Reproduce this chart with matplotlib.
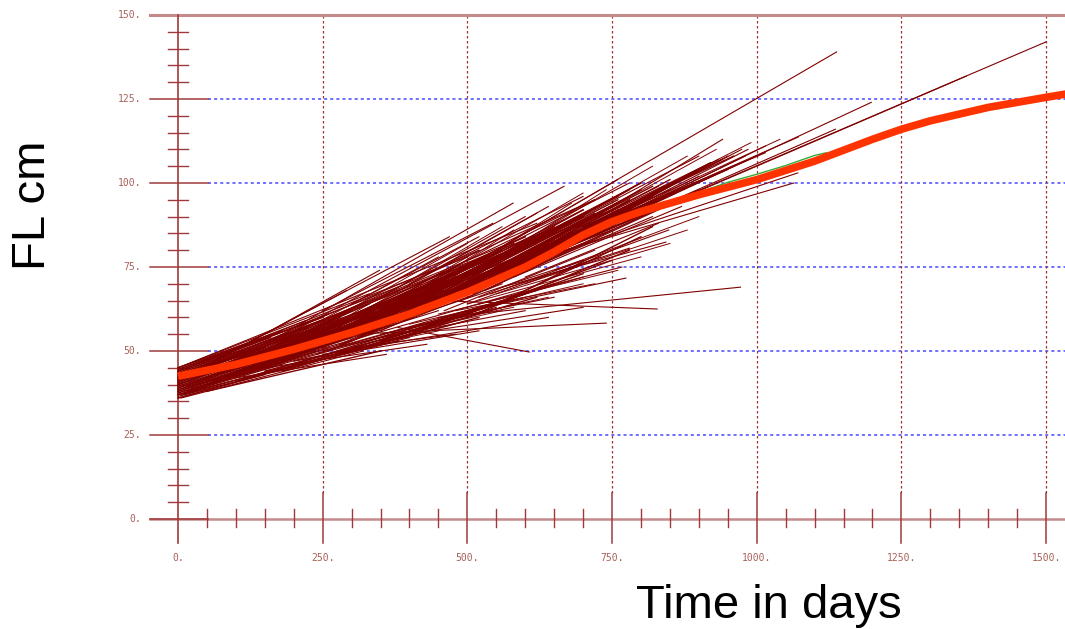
import matplotlib
matplotlib.use('Agg')
import matplotlib.pyplot as plt

# ---------------- data ----------------
# growth increments: start (x0, y0) -> end (x1, y1), days / cm
seg_x0 = [0, 0, 0, 0, 0, 0, 0, 0, 0, 0, 0, 0, 0, 0, 0, 0, 0, 0, 0, 0,
          0, 0, 0, 0, 0, 0, 0, 0, 0, 0, 0, 10, 10, 10, 20, 20, 20, 30, 30, 40,
          55, 40, 60, 5, 5, 15, 25, 35, 50, 50,
          100, 100, 100, 100, 120, 120, 140, 150, 150, 160, 180, 180, 200, 200, 200, 150, 220, 230, 240, 250,
          250, 260, 270, 280, 290, 300, 300, 310, 320, 330, 340, 350, 350, 360, 370, 380, 390, 400, 400, 410,
          420, 430, 440, 450, 450, 460, 470, 480, 490, 500, 500, 510, 520, 530, 540, 550, 550, 560, 570, 580,
          590, 600, 600, 610, 620, 630, 640, 650, 660, 680, 700, 720, 560, 540, 520, 580, 600, 500,
          450, 450, 300, 380, 500, 520, 400, 250, 200, 150, 350, 300, 420, 100, 250, 330, 460,
          250, 300, 350, 400, 420]
seg_y0 = [36, 36.5, 37, 37, 37.5, 38, 38, 38.5, 39, 39, 39.5, 40, 40, 40, 40.5, 41, 41, 41, 41.5, 42,
          42, 42, 42.5, 43, 43, 43.5, 44, 44, 44.5, 45, 45, 38, 37, 39, 40, 41, 43, 42, 44, 43,
          46, 45, 47, 36, 37, 38, 39, 40, 41, 40,
          44, 45, 46, 47, 44, 46, 47, 46, 48, 49, 47, 49, 48, 50, 56, 52, 50, 52, 49, 51,
          53, 50, 54, 52, 55, 53, 56, 54, 57, 55, 58, 56, 60, 59, 58, 61, 59, 62, 60, 63,
          61, 64, 63, 65, 64, 62, 66, 67, 65, 68, 67, 69, 70, 68, 71, 72, 72, 73, 72, 74,
          75, 76, 74, 77, 78, 79, 80, 81, 82, 84, 86, 87, 69, 67, 66, 72, 72, 64,
          60, 65, 55, 57, 62, 64, 55, 49, 47, 45, 54, 51, 58, 42, 50, 53, 60,
          62, 64, 66, 70, 72]
seg_x1 = [250, 400, 300, 500, 200, 350, 450, 600, 280, 380, 520, 230, 330, 460, 650, 300, 400, 560, 250, 350,
          480, 700, 300, 420, 550, 260, 380, 500, 220, 330, 620, 700, 550, 750, 640, 750, 600, 680, 520, 720,
          348, 291, 469, 320, 180, 260, 420, 300, 380, 600,
          450, 600, 380, 520, 700, 300, 650, 480, 560, 720, 430, 600, 750, 470, 667, 579, 640, 780, 560, 700,
          520, 820, 760, 600, 680, 850, 560, 720, 800, 620, 900, 740, 1138, 650, 860, 780, 700, 920, 600, 830,
          760, 680, 950, 800, 1198, 720, 870, 760, 900, 1362, 820, 980, 760, 880, 1015, 1500, 941, 985, 840, 1136,
          900, 1071, 820, 1064, 960, 880, 1000, 934, 974, 1072, 1015, 950, 843, 848, 780, 870, 830, 730,
          972, 828, 740, 607, 774, 767, 700, 640, 520, 430, 600, 480, 650, 360, 560, 620, 700,
          544, 520, 600, 640, 700]
seg_y1 = [48, 54, 53, 59, 48, 57, 62, 68, 57, 62, 70, 55, 61, 68, 82, 60, 66, 76, 59, 64,
          72, 90, 62, 70, 79, 61, 69, 78, 59, 67, 88, 77, 63, 86, 78, 92, 84, 87, 80, 95,
          74, 68, 84, 50, 45, 51, 58, 55, 60, 66,
          64, 78, 64, 76, 82, 58, 86, 66, 79, 95, 63, 81, 90, 70, 99, 94, 84, 100, 70, 85,
          75, 92, 96, 76, 88, 98, 78, 87, 100, 78, 108, 86, 139, 83, 97, 96, 82, 106, 74, 99,
          88, 85, 108, 95, 124, 80, 101, 90, 98, 131.8, 94, 108, 92, 96, 111, 142, 113, 110, 93, 116,
          102, 103, 90, 100, 105, 99, 108, 107, 110, 113.7, 109, 104, 82.4, 86, 80.6, 93, 88, 78,
          69, 62.5, 58.3, 49.7, 71.7, 75, 63, 60, 56, 52, 62, 55, 66, 49, 65, 68, 72,
          88, 84, 90, 93, 96]

# additional increments inside the dense core of the cloud
core_x0 = [0, 0, 0, 0, 0, 0, 0, 0, 0, 0, 0, 0, 0, 0, 0, 0, 0, 0,
           50, 50, 50, 60, 70, 80, 80, 90, 100, 100, 110, 120, 130, 140, 150, 150, 160, 170, 180, 190,
           200, 200, 210, 220, 230, 240, 250, 260, 270, 280, 290, 300, 310, 320, 330, 340, 350, 360, 370, 380,
           400, 400, 410, 420, 430, 440, 450, 460, 470, 480, 490, 500, 510, 520, 530, 540, 550, 560, 570, 580,
           590, 600, 610, 620, 640, 660, 680, 700,
           100, 150, 200, 250, 300, 350, 400, 450, 500, 550, 600, 50, 120, 180, 280, 380]
core_y0 = [36, 37, 38, 39, 40, 41, 42, 43, 44, 45, 37.5, 38.5, 39.5, 40.5, 41.5, 42.5, 43.5, 44.5,
           40, 42, 44, 41, 43, 42, 45, 44, 43, 48, 45, 47, 46, 48, 47, 50, 49, 48, 51, 50,
           50, 52, 51, 53, 52, 54, 53, 55, 54, 56, 55, 57, 56, 58, 57, 59, 58, 60, 59, 62,
           61, 63, 62, 64, 63, 65, 66, 64, 67, 66, 68, 69, 67, 70, 71, 72, 71, 73, 74, 73,
           75, 77, 76, 79, 81, 83, 85, 87,
           41, 44, 46, 48, 50, 53, 55, 58, 60, 64, 68, 38, 42, 44, 49, 54]
core_x1 = [150, 180, 160, 200, 170, 190, 150, 200, 160, 180, 240, 260, 230, 270, 210, 240, 280, 250,
           300, 320, 280, 360, 340, 400, 300, 420, 350, 330, 450, 400, 480, 420, 500, 380, 460, 520, 480, 560,
           520, 600, 480, 560, 620, 540, 650, 600, 700, 580, 640, 700, 620, 680, 760, 650, 720, 700, 640, 760,
           700, 780, 740, 800, 720, 780, 820, 760, 800, 740, 850, 760, 800, 860, 780, 880, 800, 840, 900, 820,
           860, 900, 850, 920, 880, 900, 940, 960,
           400, 450, 500, 550, 600, 650, 700, 750, 780, 800, 820, 350, 380, 420, 520, 620]
core_y1 = [43, 46, 47, 50, 50, 52, 51, 55, 54, 56, 50, 53, 53, 57, 54, 57, 61, 60,
           54, 58, 60, 59, 62, 63, 62, 66, 60, 64, 68, 67, 70, 69, 73, 68, 72, 74, 75, 78,
           76, 84, 72, 80, 82, 79, 86, 83, 90, 82, 85, 92, 83, 89, 95, 87, 91, 92, 82, 96,
           88, 98, 92, 100, 90, 96, 99, 90, 98, 88, 101, 94, 93, 100, 95, 102, 95, 99, 104, 96,
           100, 104, 99, 106, 102, 104, 107, 108,
           55, 58, 62, 64, 67, 70, 73, 77, 80, 84, 87, 50, 53, 56, 60, 66]

# sparse increments above and below the core
edge_x0 = [150, 200, 250, 300, 350, 400, 450, 500, 550, 600, 650, 300, 350, 420, 480,
           300, 350, 400, 450, 500, 550, 600, 650, 250, 200, 400, 480]
edge_y0 = [50, 53, 56, 60, 62, 65, 68, 71, 74, 78, 82, 58, 61, 66, 70,
           52, 55, 58, 61, 64, 67, 70, 74, 50, 47, 57, 62]
edge_x1 = [450, 500, 560, 620, 700, 760, 820, 880, 930, 990, 1040, 520, 580, 680, 740,
           560, 640, 700, 760, 800, 850, 880, 900, 500, 450, 580, 720]
edge_y1 = [78, 82, 87, 91, 97, 101, 105, 108, 110, 112, 113, 80, 86, 94, 98,
           62, 66, 70, 74, 78, 82, 86, 90, 60, 56, 63, 70]

# fitted mean growth curve
curve_x = [0, 100, 200, 300, 400, 500, 600, 650, 700, 750, 800, 900, 1000, 1100, 1200, 1250, 1300, 1400, 1500, 1535]
curve_y = [42.5, 46, 50.5, 55.5, 61, 67.5, 75, 79.5, 84.5, 88.5, 91.5, 96.5, 101, 106.5, 113, 116, 118.5, 122.5, 125.5, 126.5]

# second (green) curve, mostly hidden under the red one
green_x = [600, 700, 800, 900, 950, 1000, 1050, 1100, 1120]
green_y = [75.3, 84.8, 92.0, 97.2, 100.2, 102.6, 105.2, 108.2, 109.0]

x_ticks = [0, 250, 500, 750, 1000, 1250, 1500]
x_tick_labels = ['0.', '250.', '500.', '750.', '1000.', '1250.', '1500.']
y_ticks = [0, 25, 50, 75, 100, 125, 150]
y_tick_labels = ['0.', '25.', '50.', '75.', '100.', '125.', '150.']

# ---------------- figure ----------------
W, H = 1065, 629
fig = plt.figure(figsize=(W / 100, H / 100), dpi=100)
pxd = 0.5787   # px per day
pyu = 3.36     # px per cm
x_left = (150 - 178) / pxd
x_right = (1065 - 178) / pxd
y_bot = -(543 - 519) / pyu
y_top = 151.0
top_px = 519 - y_top * pyu
ax = fig.add_axes([150 / W, (H - 543) / H, (W - 150) / W, (543 - top_px) / H])
ax.set_xlim(x_left, x_right)
ax.set_ylim(y_bot, y_top)
ax.axis('off')

tick_col = '#a03a3a'
light_col = '#c58a8a'
lab_col = '#a8605a'

# horizontal grid (blue dotted)
gx0 = (208 - 178) / pxd
for yv in y_ticks[1:-1]:
    ax.plot([gx0, x_right], [yv, yv], color='#4848ff', lw=1.1, ls=(0, (2, 2)), zorder=1)
# vertical grid (dark red dotted)
gy0 = (519 - 493) / pyu
for xv in x_ticks[1:]:
    ax.plot([xv, xv], [gy0, 150], color='#a03030', lw=0.9, ls=(0, (2, 2)), zorder=1)

# top border and x axis line
ax.plot([x_left, x_right], [150, 150], color=light_col, lw=2.2, zorder=2, clip_on=False)
ax.plot([x_left, x_right], [0, 0], color=light_col, lw=1.8, zorder=2, clip_on=False)
# y axis line
ax.plot([0, 0], [y_bot, 150], color=tick_col, lw=1.2, zorder=2, clip_on=False)

# y ticks
maj_x1 = (208 - 178) / pxd
for yv in y_ticks[:-1]:
    ax.plot([x_left, maj_x1], [yv, yv], color=tick_col, lw=1.1, zorder=2, clip_on=False)
for yv in range(5, 150, 5):
    if yv % 25:
        ax.plot([-10 / pxd, 10 / pxd], [yv, yv], color=tick_col, lw=1.0, zorder=2)
# x ticks
for xv in x_ticks[1:]:
    ax.plot([xv, xv], [y_bot, gy0], color=tick_col, lw=1.1, zorder=2, clip_on=False)
for xv in range(50, 1550, 50):
    if xv % 250:
        ax.plot([xv, xv], [-8 / pyu, 10 / pyu], color=tick_col, lw=1.0, zorder=2)

# tick labels
for yv, lab in zip(y_ticks, y_tick_labels):
    ax.text((141 - 178) / pxd, yv, lab, ha='right', va='center', fontsize=7,
            family='DejaVu Sans Mono', color=lab_col, clip_on=False)
for xv, lab in zip(x_ticks, x_tick_labels):
    ax.text(xv, (519 - 558) / pyu, lab, ha='center', va='center', fontsize=7,
            family='DejaVu Sans Mono', color=lab_col, clip_on=False)

# segments
for a, b, c, d in zip(seg_x0, seg_y0, seg_x1, seg_y1):
    ax.plot([a, c], [b, d], color='#800000', lw=0.8, zorder=3)
for a, b, c, d in zip(core_x0, core_y0, core_x1, core_y1):
    ax.plot([a, c], [b, d], color='#800000', lw=1.0, zorder=3)
for a, b, c, d in zip(edge_x0, edge_y0, edge_x1, edge_y1):
    ax.plot([a, c], [b, d], color='#800000', lw=0.7, zorder=3)

# green and mean curves
ax.plot(green_x, green_y, color='#33aa33', lw=1.0, zorder=4)
ax.plot(curve_x, curve_y, color='#ff3300', lw=5.5, zorder=5, solid_capstyle='butt')

# axis titles
fig.text(33 / W, 1 - 205 / H, 'FL cm', rotation=90, fontsize=34, family='Liberation Sans',
         ha='center', va='center', color='black')
fig.text(769 / W, 1 - 618 / H, 'Time in days', fontsize=34, family='Liberation Sans',
         ha='center', va='baseline', color='black')

fig.savefig('out.png', dpi=100)
